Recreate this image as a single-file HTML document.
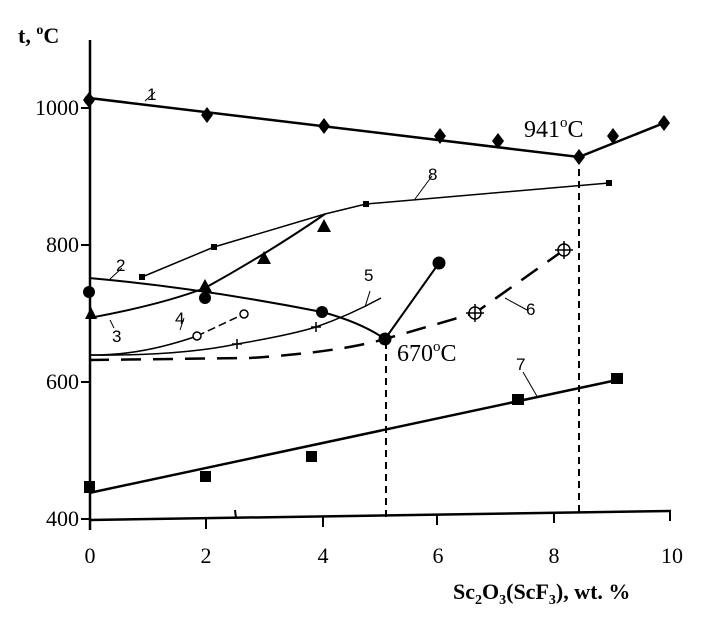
<!DOCTYPE html>
<html><head><meta charset="utf-8"><style>
html,body{margin:0;padding:0;background:#fff;}
svg{display:block;}
text{font-family:"Liberation Serif",serif;fill:#000;}
.s{font-family:"Liberation Sans",sans-serif;font-size:17px;}
</style></head><body>
<svg width="723" height="626" viewBox="0 0 723 626" xmlns="http://www.w3.org/2000/svg">
<g stroke="#000" fill="none">
<line x1="90" y1="40" x2="90" y2="530" stroke-width="2.5"/>
<line x1="89" y1="520" x2="671" y2="511" stroke-width="2.5"/>
<g stroke-width="2">
<line x1="81" y1="108" x2="90" y2="108"/><line x1="81" y1="245" x2="90" y2="245"/>
<line x1="81" y1="382" x2="90" y2="382"/><line x1="81" y1="519" x2="90" y2="519"/>
<line x1="206" y1="518" x2="206" y2="529"/><line x1="323" y1="517" x2="323" y2="527"/>
<line x1="437" y1="515" x2="437" y2="525"/><line x1="554" y1="513" x2="554" y2="523"/>
<line x1="670" y1="511" x2="670" y2="521"/><line x1="235" y1="510" x2="236" y2="518"/>
</g>
<line x1="386" y1="342" x2="386" y2="518" stroke-width="2" stroke-dasharray="7,5"/>
<line x1="579" y1="157" x2="579" y2="515" stroke-width="2" stroke-dasharray="7,5"/>
<polyline points="89,98 579,157 664,123" stroke-width="2.5"/>
<line x1="145" y1="101" x2="155" y2="92" stroke-width="1"/>
<polyline points="142,277 214,247 325,214 366,204 609,183" stroke-width="1.5"/>
<line x1="415" y1="199" x2="432" y2="176" stroke-width="1"/>
<path d="M89,318 Q160,305 205,288 Q270,252 325,214" stroke-width="2"/>
<line x1="110" y1="320" x2="114" y2="328" stroke-width="1"/>
<path d="M89,278 Q200,288 322,312 Q360,322 385,339" stroke-width="2"/>
<polyline points="385,339 439,263" stroke-width="2"/>
<line x1="110" y1="279" x2="122" y2="268" stroke-width="1"/>
<path d="M89,355 Q140,356 197,336" stroke-width="1.5"/>
<line x1="197" y1="336" x2="244" y2="314" stroke-width="1.5" stroke-dasharray="8,4"/>
<line x1="180" y1="330" x2="184" y2="318" stroke-width="1"/>
<path d="M89,355 Q180,356 237,344 Q290,335 316,327 Q350,315 381,298" stroke-width="1.5"/>
<line x1="365" y1="307" x2="370" y2="291" stroke-width="1"/>
<path d="M89,360 L250,358 Q340,352 385,339 Q430,326 475,313 L564,250" stroke-width="2.5" stroke-dasharray="20,12"/>
<line x1="505" y1="298" x2="527" y2="310" stroke-width="1"/>
<line x1="89" y1="493" x2="617" y2="380" stroke-width="2.5"/>
<line x1="523" y1="372" x2="538" y2="398" stroke-width="1"/>
</g>
<g fill="#000">
<polygon points="89,92 95,100 89,108 83,100"/>
<polygon points="207,107 213,115 207,123 201,115"/>
<polygon points="324,118 330,126 324,134 318,126"/>
<polygon points="440,128 446,136 440,144 434,136"/>
<polygon points="498,133 504,141 498,149 492,141"/>
<polygon points="579,149 585,157 579,165 573,157"/>
<polygon points="613,128 619,136 613,144 607,136"/>
<polygon points="664,115 670,123 664,131 658,123"/>
<circle cx="89" cy="100" r="5"/>
<rect x="139" y="274" width="6" height="6"/><rect x="211" y="244" width="6" height="6"/>
<rect x="363" y="201" width="6" height="6"/><rect x="606" y="180" width="6" height="6"/>
<polygon points="91,307 97,319 85,319"/><polygon points="205,279 212,292 198,292"/>
<polygon points="264,251 271,264 257,264"/><polygon points="324,219 331,232 317,232"/>
<circle cx="89" cy="292" r="6"/><circle cx="205" cy="298" r="6"/>
<circle cx="322" cy="312" r="6"/><circle cx="385" cy="339" r="6.5"/><circle cx="439" cy="263" r="6.5"/>
<rect x="84" y="481" width="11" height="12"/><rect x="200" y="471" width="11" height="11"/>
<rect x="306" y="451" width="11" height="11"/><rect x="512" y="394" width="12" height="11"/>
<rect x="611" y="373" width="12" height="11"/>
</g>
<g fill="#fff" stroke="#000" stroke-width="1.5">
<circle cx="197" cy="336" r="4"/><circle cx="244" cy="314" r="4"/>
<circle cx="475" cy="313" r="6"/><circle cx="564" cy="250" r="6"/>
</g>
<g stroke="#000" stroke-width="1.5">
<line x1="466" y1="313" x2="484" y2="313"/><line x1="475" y1="304" x2="475" y2="322"/>
<line x1="555" y1="250" x2="573" y2="250"/><line x1="564" y1="241" x2="564" y2="259"/>
<line x1="232" y1="344" x2="242" y2="344"/><line x1="237" y1="339" x2="237" y2="349"/>
<line x1="311" y1="327" x2="321" y2="327"/><line x1="316" y1="322" x2="316" y2="332"/>
</g>
<text x="18" y="43" font-size="22" font-weight="bold">t, <tspan font-size="14" dy="-9">o</tspan><tspan dy="9">C</tspan></text>
<g font-size="22" text-anchor="end">
<text x="79" y="115">1000</text><text x="79" y="252">800</text>
<text x="79" y="389">600</text><text x="79" y="526">400</text>
</g>
<g font-size="22" text-anchor="middle">
<text x="90" y="563">0</text><text x="206" y="563">2</text><text x="323" y="563">4</text>
<text x="438" y="563">6</text><text x="554" y="563">8</text><text x="672" y="563">10</text>
</g>
<text x="453" y="599" font-size="22" font-weight="bold">Sc<tspan font-size="14" dy="5">2</tspan><tspan dy="-5">O</tspan><tspan font-size="14" dy="5">3</tspan><tspan dy="-5">(ScF</tspan><tspan font-size="14" dy="5">3</tspan><tspan dy="-5">),  wt. %</tspan></text>
<text x="524" y="137" font-size="24">941<tspan font-size="15" dy="-10">o</tspan><tspan dy="10">C</tspan></text>
<text x="397" y="361" font-size="24">670<tspan font-size="15" dy="-10">o</tspan><tspan dy="10">C</tspan></text>
<text class="s" x="147" y="100">1</text>
<text class="s" x="116" y="271">2</text>
<text class="s" x="112" y="342">3</text>
<text class="s" x="175" y="324">4</text>
<text class="s" x="364" y="281">5</text>
<text class="s" x="526" y="315">6</text>
<text class="s" x="516" y="370">7</text>
<text class="s" x="428" y="180">8</text>
</svg>
</body></html>
